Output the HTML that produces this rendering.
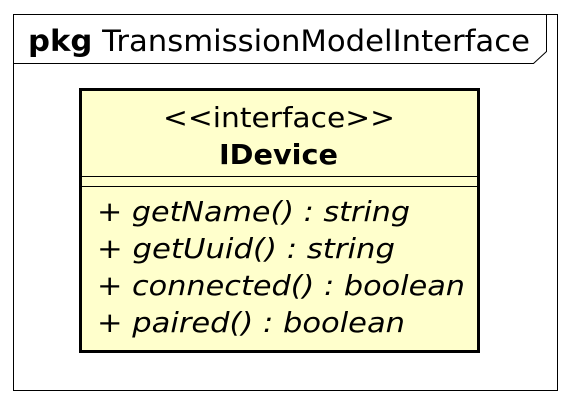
<!DOCTYPE html>
<html><head><meta charset="utf-8"><style>
html,body{margin:0;padding:0;background:#fff;width:572px;height:405px;overflow:hidden}
svg{display:block}
text{font-family:"DejaVu Sans","Liberation Sans",sans-serif;fill:#000}
</style></head><body>
<svg width="572" height="405" viewBox="0 0 572 405" xmlns="http://www.w3.org/2000/svg">
<rect x="13.5" y="14.5" width="544" height="376" fill="#fff" stroke="#000" stroke-width="1"/>
<polyline points="13.5,63.5 533.5,63.5 546.5,51.5 546.5,14.5" fill="none" stroke="#000" stroke-width="1"/>
<text x="28" y="51" font-size="29" textLength="502" lengthAdjust="spacingAndGlyphs"><tspan font-weight="bold">pkg</tspan> TransmissionModelInterface</text>
<rect x="80.5" y="89.5" width="398" height="262" fill="#ffffcc" stroke="#000" stroke-width="3"/>
<line x1="82" y1="176.5" x2="477" y2="176.5" stroke="#000" stroke-width="1"/>
<line x1="82" y1="186.5" x2="477" y2="186.5" stroke="#000" stroke-width="1"/>
<text x="163" y="127" font-size="28" textLength="232" lengthAdjust="spacingAndGlyphs">&lt;&lt;interface&gt;&gt;</text>
<text x="219" y="164" font-size="28" font-weight="bold" textLength="119" lengthAdjust="spacingAndGlyphs">IDevice</text>
<g font-style="italic" font-size="28">
<text x="97" y="221" textLength="313" lengthAdjust="spacingAndGlyphs">+ getName() : string</text>
<text x="97" y="258" textLength="298" lengthAdjust="spacingAndGlyphs">+ getUuid() : string</text>
<text x="97" y="295" textLength="368" lengthAdjust="spacingAndGlyphs">+ connected() : boolean</text>
<text x="97" y="332" textLength="308" lengthAdjust="spacingAndGlyphs">+ paired() : boolean</text>
</g>
</svg>
</body></html>
